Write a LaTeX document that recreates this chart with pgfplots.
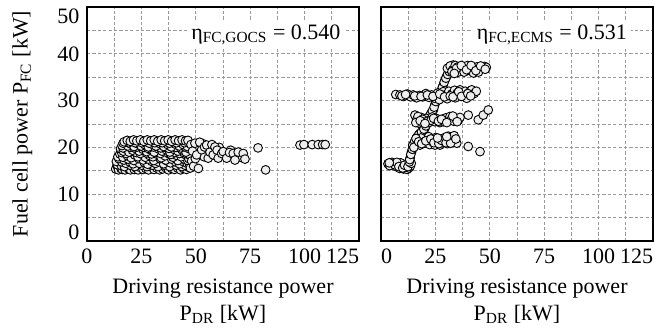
\documentclass[border=0pt,11pt]{standalone}
\usepackage{fontspec}
\setmainfont{Liberation Serif}
\usepackage{pgfplots}
\pgfplotsset{compat=1.18}

\definecolor{dotfill}{HTML}{EEEEEE}
\definecolor{gridgray}{HTML}{9A9A9A}

\pgfplotsset{
  fcpanel/.style={
    scale only axis,
    width=136pt, height=117pt,
    xmin=0, xmax=125, ymin=0, ymax=50,
    xtick={0,25,50,75,100,125},
    minor xtick={12.5,37.5,62.5,87.5,112.5},
    ytick={0,10,20,30,40,50},
    minor ytick={5,15,25,35,45},
    major tick length=0pt, minor tick length=0pt,
    grid=both,
    major grid style={gridgray, dash pattern=on 1.6pt off 1.1pt, line width=0.45pt},
    minor grid style={gridgray, dash pattern=on 1.6pt off 1.1pt, line width=0.45pt},
    axis line style={black, line width=0.6pt},
    /pgf/number format/assume math mode=true,
    tick label style={font=\fontsize{11}{13}\selectfont},
    label style={font=\fontsize{11}{13.5}\selectfont},
    xlabel={Driving resistance power\\P\textsubscript{DR} [kW]},
    xlabel style={align=center, yshift=0pt},
    clip=false,
  },
  fcdots/.style={
    only marks, mark=*, mark size=2.2pt,
    mark options={fill=dotfill, draw=black, line width=0.45pt},
  },
}

\begin{document}
\begin{tikzpicture}
\path[use as bounding box] (0,0) rectangle (327pt,163.5pt);

% GOCS operating points
\begin{axis}[fcpanel, at={(43.5pt,43pt)}, anchor=south west,
  xticklabels={0,25,50,75,100,\llap{125}},
  yticklabels={\smash{\raisebox{0.8pt}{0}},10,20,30,40,\smash{\raisebox{-8.2pt}{50}}},
  ylabel={Fuel cell power P\textsubscript{FC} [kW]},
  ylabel shift=5pt]
\addplot[fcdots] coordinates {
(13.2,15.4) (13.8,16.1) (14.5,15.2) (14.9,16.8) (15.6,15.5) (16.2,15.3) (16.8,16.4) (17.5,15.2)
(18.3,15.8) (19.1,15.4) (20.0,15.2) (20.8,16.0) (21.7,15.3) (22.6,15.6) (23.5,15.2) (24.6,15.7)
(25.8,15.3) (27.0,15.5) (28.3,15.2) (29.5,15.8) (30.8,15.3) (32.0,15.6) (33.4,15.2) (34.8,15.4)
(36.1,15.7) (37.5,15.2) (38.9,15.5) (40.2,15.3) (41.6,15.6) (43.0,15.2) (44.3,15.5) (45.7,15.3) (46.5,15.8)
(14.0,16.3) (15.8,16.1) (17.2,15.9) (19.9,16.2) (22.0,15.9) (25.2,16.2) (27.6,15.9) (30.1,16.2)
(32.7,15.9) (35.5,16.2) (38.0,15.9) (41.0,16.2) (43.6,15.9) (45.1,16.2)
(13.5,17.0) (15.3,17.4) (16.0,16.9) (17.9,16.6) (19.6,16.9) (21.2,16.5) (22.9,17.1) (24.1,16.6)
(26.3,16.8) (27.9,16.4) (29.8,17.0) (31.5,16.6) (33.0,16.9) (35.2,16.5) (36.8,17.1) (38.4,16.7)
(40.7,16.9) (42.5,16.5) (44.1,17.0) (46.0,16.6) (47.2,16.3)
(14.6,17.6) (17.0,17.3) (18.9,17.5) (21.5,17.2) (23.8,17.6) (25.9,17.3) (28.2,17.5) (30.7,17.2)
(33.6,17.6) (36.2,17.3) (38.9,17.5) (41.8,17.2) (44.7,17.5) (46.3,17.2)
(14.2,18.0) (15.1,18.6) (16.5,17.9) (17.3,18.8) (18.6,18.2) (20.3,17.8) (21.9,18.4) (23.4,18.0)
(25.0,18.6) (26.8,17.9) (28.6,18.3) (30.3,18.0) (32.4,18.5) (34.1,17.8) (35.9,18.2) (37.8,18.6)
(39.5,17.9) (41.2,18.3) (43.3,18.0) (45.0,18.5) (46.8,17.6)
(15.9,18.9) (18.0,18.7) (19.9,19.0) (22.7,18.9) (24.5,18.7) (27.3,18.8) (29.7,18.6) (31.5,18.9)
(33.8,18.7) (36.9,18.9) (38.6,18.5) (40.4,18.9) (42.6,18.7) (44.4,18.9) (46.0,18.6) (47.3,18.4)
(15.4,19.7) (16.7,19.2) (18.1,19.6) (19.3,19.0) (20.9,19.4) (22.4,19.8) (24.0,19.2) (25.7,19.6)
(27.4,19.1) (29.1,19.5) (30.9,19.0) (32.8,19.7) (34.5,19.2) (36.4,19.5) (38.1,19.0) (39.9,19.6)
(41.8,19.2) (43.6,19.5) (45.5,19.0)
(16.5,19.9) (19.8,20.0) (21.7,19.9) (23.1,20.1) (26.2,20.0) (28.0,19.8) (30.5,20.1) (33.9,19.9)
(36.0,20.0) (37.6,19.8) (40.9,20.0) (43.0,19.9) (45.0,20.1) (47.0,19.7)
(16.1,20.4) (17.4,20.9) (18.8,20.3) (20.2,20.7) (21.6,20.2) (23.2,20.8) (24.9,20.3) (26.5,20.6)
(28.2,20.1) (29.8,20.7) (31.7,20.3) (33.5,20.8) (35.3,20.2) (37.1,20.6) (38.8,20.1) (40.6,20.7)
(42.4,20.3) (44.2,20.6) (46.1,20.2)
(16.6,20.9) (19.2,21.0) (22.2,21.0) (25.3,21.0) (28.6,20.9) (31.2,21.0) (34.6,21.0) (37.9,20.9)
(41.1,21.0) (44.8,21.0)
(17.1,21.2) (18.5,21.5) (19.9,21.3) (21.4,21.6) (22.9,21.4) (24.5,21.6) (26.1,21.3) (27.7,21.6)
(29.3,21.4) (30.9,21.6) (32.5,21.3) (34.1,21.6) (35.7,21.4) (37.3,21.6) (38.9,21.3) (40.5,21.6)
(42.1,21.4) (43.7,21.6) (45.3,21.4) (46.4,21.5)
(47.5,15.6) (48.1,17.1) (49.0,16.0) (49.8,17.6) (50.2,20.2) (53.2,20.8) (53.8,18.0) (56.9,18.2)
(60.8,20.0) (63.5,18.2) (66.0,19.4) (70.5,17.9)
(47.8,20.6) (48.5,19.2) (49.6,20.9) (50.4,18.4) (51.2,15.5) (51.8,21.1) (52.7,19.5) (54.0,20.1)
(55.0,20.5) (55.7,17.7) (56.5,19.0) (57.4,20.6) (58.0,18.4) (58.8,20.1) (59.8,19.4) (60.3,17.7)
(61.9,18.7) (62.6,19.1) (64.2,17.7) (65.5,18.9) (67.2,18.7) (68.0,17.3) (69.5,19.0) (71.8,18.7) (72.6,17.5)
(78.6,19.9) (82.1,15.2) (97.9,20.5) (99.7,20.6) (103.5,20.6) (106.3,20.6) (108.3,20.6) (109.5,20.6)
};
\node[fill=white, inner sep=2pt, anchor=east,
  font=\fontsize{11}{13}\selectfont] at (axis cs:118.5,44.0)
  {η\textsubscript{FC,GOCS} = 0.540};
\end{axis}

% ECMS operating points
\begin{axis}[fcpanel, at={(190.5pt,43pt)}, anchor=south west,
  xticklabels={\rlap{0},25,50,75,100,\llap{125}},
  yticklabels={}]
\addplot[fcdots] coordinates {
(3.2,16.5) (4.5,16.2) (5.8,16.6) (6.9,15.9) (7.8,16.4) (8.6,15.5) (9.5,16.1) (10.3,15.4)
(11.2,15.8) (12.0,15.3) (12.8,15.6) (13.5,16.0) (5.0,16.8) (9.0,16.7) (11.8,16.3)
(4.0,16.1) (6.3,16.3) (7.3,16.8) (8.2,15.9) (10.0,15.6) (10.8,16.2) (12.4,15.9) (13.9,16.6) (3.8,16.7)
(13.0,16.9) (13.4,17.8) (14.0,19.0) (14.8,20.2) (15.6,21.3) (16.7,22.3) (17.9,23.0) (19.2,23.6)
(20.2,24.1) (21.0,25.0) (21.7,25.9) (22.4,26.8) (23.2,27.4) (24.1,28.0) (24.8,29.2) (25.6,30.5)
(26.4,31.3) (27.2,31.8) (27.9,32.3) (28.6,33.3) (29.4,34.4) (30.2,35.2) (31.0,35.9) (31.7,36.5) (32.4,37.1) (33.2,37.6)
(13.2,17.4) (13.7,18.5) (14.4,19.6) (15.2,20.8) (16.1,21.8) (17.3,22.7) (18.6,23.3) (19.7,23.9)
(20.6,24.6) (21.3,25.5) (22.0,26.4) (22.8,27.1) (23.6,27.8) (24.4,28.6) (25.2,29.8) (26.0,30.9)
(26.8,31.5) (27.6,32.0) (28.2,32.8) (29.0,33.9) (29.8,34.8) (30.6,35.6) (31.4,36.2) (32.0,36.8)
(30.5,36.9) (31.8,37.4) (33.0,36.6) (34.1,37.5) (35.3,37.2) (36.4,36.5) (37.6,37.3) (38.7,36.8)
(39.8,37.5) (40.9,36.4) (41.9,37.1) (43.0,36.7) (44.1,37.2) (45.2,36.6) (46.3,37.0) (47.5,37.3)
(48.4,37.1) (35.0,36.0) (38.2,36.1) (42.5,35.9) (44.8,36.1)
(32.6,36.2) (34.7,36.9) (36.9,37.5) (39.3,36.6) (41.4,37.5) (43.6,36.4) (45.8,37.4) (47.9,36.7) (33.7,35.8)
(6.8,31.3) (8.7,31.2) (10.4,30.9) (12.1,31.4) (13.6,30.8) (14.8,31.2) (16.3,30.6) (17.7,31.1)
(19.2,30.8) (20.6,31.5) (22.0,30.7) (23.3,31.2) (24.7,30.5) (26.0,31.6) (27.4,31.0) (28.6,31.9)
(29.9,31.3) (31.2,32.0) (32.5,31.4) (33.8,32.2) (35.0,31.6) (36.3,32.3) (37.5,31.2) (38.7,32.0)
(39.4,30.5) (40.6,31.8) (41.7,32.3) (42.8,31.5) (43.8,32.0) (34.2,30.6) (30.4,30.4) (26.8,30.2)
(9.6,31.0) (11.3,31.3) (15.5,31.0) (18.4,30.9) (21.3,31.2) (23.9,30.9) (27.0,31.4) (29.2,30.8)
(31.8,31.0) (33.1,30.8) (35.7,31.9) (37.0,30.9) (39.9,31.5) (41.2,31.0)
(15.6,26.9) (16.4,25.9) (17.3,25.2) (18.5,26.4) (19.6,25.6) (20.8,26.2) (22.0,25.3) (22.5,25.9)
(23.6,26.5) (24.7,25.5) (25.9,26.1) (27.0,25.3) (28.6,25.5) (29.7,26.3) (30.8,25.7) (31.7,26.6)
(32.5,26.2) (33.4,25.6) (34.5,26.1) (35.6,25.8) (36.3,26.4)
(17.0,26.6) (19.1,26.0) (21.4,25.6) (23.0,25.8) (24.2,26.2) (26.4,25.6) (27.8,26.0) (30.2,25.3)
(33.0,26.7) (35.0,25.5) (16.0,25.3) (18.0,25.7) (20.2,25.1)
(40.1,26.9) (44.7,25.9) (47.0,26.9) (49.3,28.0)
(14.6,20.5) (15.5,21.3) (16.6,20.8) (17.9,20.5) (19.0,21.5) (20.1,20.9) (21.3,21.7) (22.4,20.6)
(23.6,21.2) (24.8,20.5) (25.9,21.4) (27.1,20.5) (28.3,21.0) (29.4,21.7) (30.5,20.8) (31.6,21.5)
(32.5,22.2) (33.2,21.9) (34.0,21.2) (34.8,20.9) (31.0,22.4) (28.8,22.0) (25.2,22.1) (21.9,22.3) (18.3,22.0)
(15.1,20.0) (16.1,21.9) (17.3,21.2) (18.7,20.8) (20.6,21.4) (22.9,21.8) (24.3,21.0) (26.6,20.8)
(27.8,21.5) (29.9,21.0) (32.0,20.9) (33.6,22.5) (34.4,21.8) (26.0,22.0) (30.2,22.3)
(40.1,20.2) (45.5,19.1)
};
\node[fill=white, inner sep=2pt, anchor=east,
  font=\fontsize{11}{13}\selectfont] at (axis cs:115,44.0)
  {η\textsubscript{FC,ECMS} = 0.531};
\end{axis}
\end{tikzpicture}
\end{document}
